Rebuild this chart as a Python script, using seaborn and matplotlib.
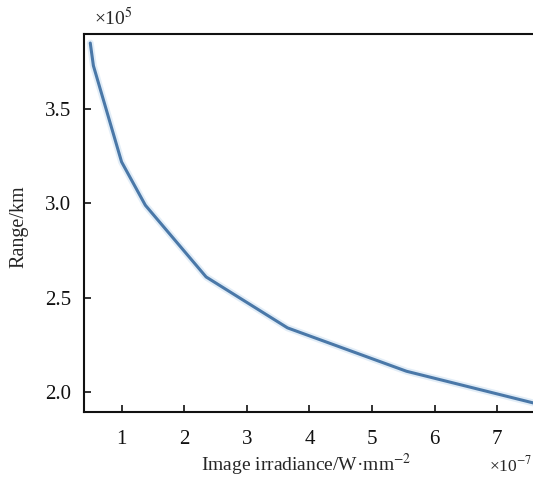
import matplotlib
matplotlib.use("Agg")
import matplotlib.pyplot as plt
import seaborn as sns
import pandas as pd

irradiance = [0.50, 0.55, 1.00, 1.38, 2.35, 3.65, 5.55, 7.60]
range_km = [3.85, 3.73, 3.22, 2.99, 2.61, 2.34, 2.11, 1.94]
x_ticks = [1, 2, 3, 4, 5, 6, 7]
y_ticks = [2.0, 2.5, 3.0, 3.5]

sns.set_theme(style="ticks")
plt.rcParams['font.family'] = ['Liberation Serif', 'DejaVu Serif']
plt.rcParams['mathtext.fontset'] = 'stix'

df = pd.DataFrame({"x": irradiance, "y": range_km})

fig = plt.figure(figsize=(5.33, 4.78), dpi=100)
ax = fig.add_axes([84/533, 1 - 412/478, 1 - 84/533, (412 - 34)/478])

# soft glow
sns.lineplot(data=df, x="x", y="y", ax=ax, color="#d6e6f4", linewidth=5, alpha=0.7)
sns.lineplot(data=df, x="x", y="y", ax=ax, color="#4a78a8", linewidth=2.2)

ax.set_xlim(0.40, 7.57)
ax.set_ylim(1.894, 3.898)
ax.set_xticks(x_ticks)
ax.set_xticklabels([str(v) for v in x_ticks])
ax.set_yticks(y_ticks)
ax.set_yticklabels([f"{v:.1f}" for v in y_ticks])
ax.tick_params(direction="in", length=5, width=1.2, labelsize=15, colors="#111111")
ax.tick_params(axis="y", pad=9)
ax.tick_params(axis="x", pad=13)
for s in ["left", "bottom", "top"]:
    ax.spines[s].set_linewidth(1.5)
    ax.spines[s].set_color("#111111")
ax.spines["right"].set_visible(False)

ax.set_xlabel("")
ax.set_ylabel("")
fig.text(19/533, 1 - 227/478, "Range/km", fontsize=14.5, rotation=90,
         ha="center", va="center")
fig.text(0.5 + 40/533, 1 - 465/478, "Image irradiance/W\u00b7mm$^{-2}$", fontsize=14,
         ha="center", va="center")
fig.text(94/533, 1 - 18/478, "\u00d710$^{5}$", fontsize=14, ha="left", va="center")
fig.text(489/533, 1 - 465/478, "\u00d710$^{-7}$", fontsize=12.5, ha="left", va="center")

fig.savefig("out.png", dpi=100)
